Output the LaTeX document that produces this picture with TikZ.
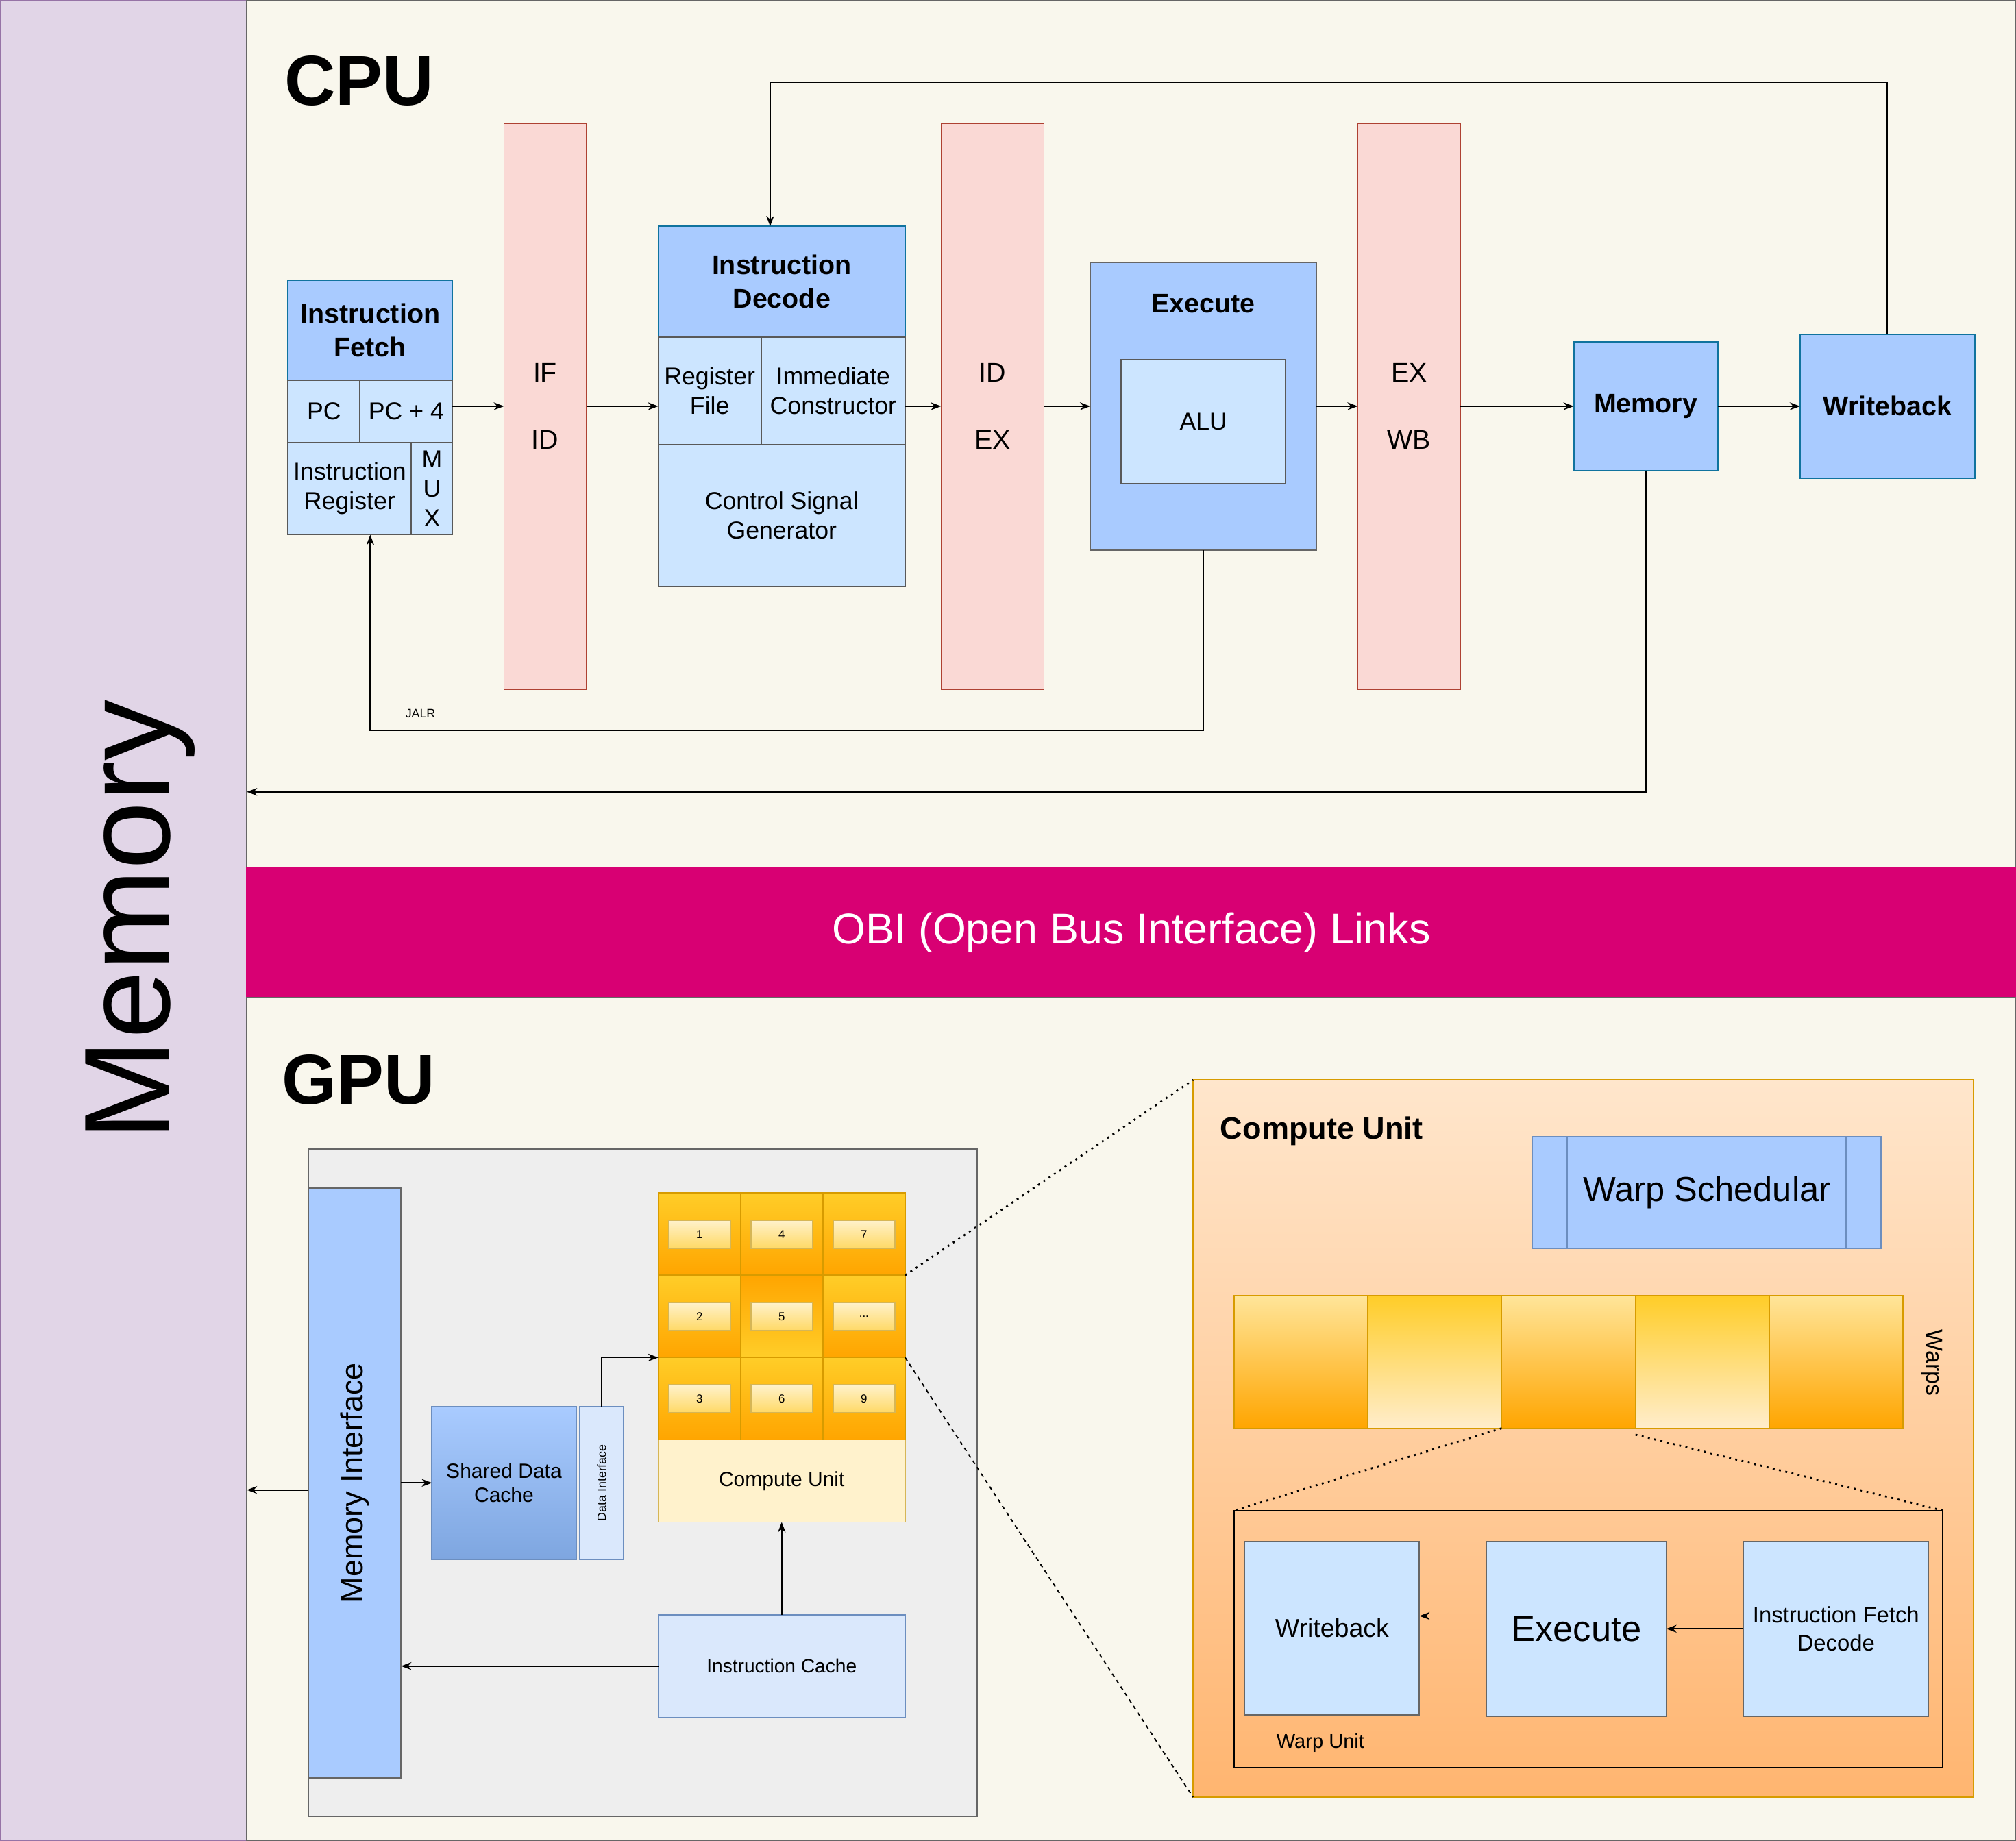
\documentclass[tikz,border=0pt]{standalone}
\usepackage{fontspec}
\setmainfont{Liberation Sans}
\usetikzlibrary{positioning,arrows.meta}

\definecolor{cream}{HTML}{F9F7ED}
\definecolor{lavender}{HTML}{E1D5E7}
\definecolor{purpleline}{HTML}{9673A6}
\definecolor{obi}{HTML}{D80073}
\definecolor{regfill}{HTML}{FAD9D5}
\definecolor{regline}{HTML}{AE4132}
\definecolor{hdrblue}{HTML}{A9CBFF}
\definecolor{cellblue}{HTML}{CCE5FF}
\definecolor{paleblue}{HTML}{DAE8FC}
\definecolor{deepblue}{HTML}{7EA6E0}
\definecolor{blueline}{HTML}{6C8EBF}
\definecolor{tealline}{HTML}{10739E}
\definecolor{gridline}{HTML}{D79B00}
\definecolor{gold}{HTML}{FFCD28}
\definecolor{amber}{HTML}{FFA500}
\definecolor{lemon}{HTML}{FFE599}
\definecolor{cornsilk}{HTML}{FFEDCC}
\definecolor{paleyellow}{HTML}{FFF2CC}
\definecolor{butter}{HTML}{FFD966}
\definecolor{yellowline}{HTML}{D6B656}
\definecolor{peach}{HTML}{FFE6CC}
\definecolor{tangerine}{HTML}{FFB570}
\definecolor{grayfill}{HTML}{EEEEEE}

\newcommand{\fnt}[2]{\fontsize{#1}{#2}\selectfont}

\tikzset{
  block/.style={draw=black!70, line width=1pt, inner sep=0pt, outer sep=0pt, align=center, anchor=north west},
  sz/.style 2 args={minimum width=#1pt, minimum height=#2pt},
  hdr/.style={block, fill=hdrblue, draw=tealline, font=\fnt{21}{26}\bfseries},
  cell/.style={block, fill=cellblue, draw=black!65, font=\fnt{19}{23}},
  pipereg/.style={block, fill=regfill, draw=regline, font=\fnt{21}{26}},
  core/.style={block, sz={64}{64}, top color=gold, bottom color=amber, draw=gridline},
  corebox/.style={draw=yellowline, line width=1pt, top color=paleyellow, bottom color=butter, minimum width=48pt, minimum height=22pt, inner sep=0pt, font=\fnt{9}{11}},
  warp/.style={block, sz={104}{103}, draw=gridline},
  link/.style={draw=black, line width=1pt, -{Stealth[length=8pt,width=6pt]}},
  paneltitle/.style={anchor=west, inner sep=0pt, font=\fnt{55}{60}\bfseries},
  zoomline/.style={line width=1.5pt, dash pattern=on 1.5pt off 3.5pt},
  zoomdash/.style={line width=1pt, dash pattern=on 3pt off 3pt},
}

\begin{document}
\begin{tikzpicture}[x=1pt,y=-1pt]
\useasboundingbox (0,0) rectangle (1568,1432);

% panels
\node[block, fill=lavender, draw=purpleline, sz={192}{1432}] (membar) at (0,0) {};
\node[rotate=90, font=\fnt{95}{100}] (memlabel) at ([xshift=13pt]membar.center) {Memory};
\node[block, fill=cream, draw=black!60, sz={1376}{675}] (cpu) at (membar.north east) {};
\node[block, fill=obi, draw=obi, text=white, font=\fnt{33.5}{40}, sz={1376}{101}] (obi) at (cpu.south west) {OBI (Open Bus Interface) Links};
\node[block, fill=cream, draw=black!60, sz={1376}{656}] (gpu) at (obi.south west) {};
\node[paneltitle] (cputitle) at (221,63) {CPU};
\node[paneltitle] (gputitle) at (219,840) {GPU};

% CPU pipeline
\node[hdr, sz={128}{78}] (ifhead) at (224,218) {Instruction\\Fetch};
\node[cell, sz={56}{48}] (pc) at (ifhead.south west) {PC};
\node[cell, sz={72}{48}] (pcfour) at (pc.north east) {PC + 4};
\node[cell, sz={96}{72}] (ir) at (pc.south west) {Instruction\\Register};
\node[cell, sz={32}{72}] (mux) at (ir.north east) {M\\U\\X};
\node[pipereg, sz={64}{440}] (ifid) at (392,96) {IF\\[26pt]ID};
\node[hdr, sz={192}{86}] (idhead) at (512,176) {Instruction\\Decode};
\node[cell, sz={80}{84}] (rf) at (idhead.south west) {Register\\File};
\node[cell, sz={112}{84}] (imm) at (rf.north east) {Immediate\\Constructor};
\node[cell, sz={192}{110}] (csg) at (rf.south west) {Control Signal\\Generator};
\node[pipereg, sz={80}{440}] (idex) at (732,96) {ID\\[26pt]EX};
\node[hdr, draw=black!60, sz={176}{224}] (ex) at (848,204) {};
\node[font=\fnt{21}{26}\bfseries] (extitle) at ([yshift=-32pt]ex.north) {Execute};
\node[cell, sz={128}{96}] (alu) at ([xshift=24pt,yshift=-76pt]ex.north west) {ALU};
\node[pipereg, sz={80}{440}] (exwb) at (1056,96) {EX\\[26pt]WB};
\node[hdr, sz={112}{100}] (mem) at (1224,266) {Memory};
\node[hdr, sz={136}{112}] (wb) at (1400,260) {Writeback};

\draw[link] (pcfour.east |- ifid.center) -- (ifid.west);
\draw[link] (ifid.east) -- (rf.west |- ifid.east);
\draw[link] (imm.east |- idex.west) -- (idex.west);
\draw[link] (idex.east) -- (ex.west);
\draw[link] (ex.east) -- (exwb.west);
\draw[link] (exwb.east) -- (mem.west);
\draw[link] (mem.east) -- (wb.west);
\draw[link] (wb.north) -- ++(0,-196) -| ([xshift=-9pt]idhead.north);
\draw[link] (ex.south) -- ++(0,140) -| (ifhead.south |- ir.south);
\node[font=\fnt{9.5}{11}] (jalr) at (327,555) {JALR};
\draw[link] (mem.south) |- (membar.east |- 0,616);

% GPU
\node[block, fill=grayfill, draw=black!60, sz={520}{519}] (gpubox) at (240,894) {};
\node[block, fill=hdrblue, draw=black!60, sz={72}{459}] (memif) at (240,924) {};
\node[rotate=90, font=\fnt{24}{28}] (memiflabel) at (memif.center) {Memory Interface};
\node[block, top color=hdrblue, bottom color=deepblue, draw=blueline, font=\fnt{16}{19}, sz={112}{119}] (sdc) at (336,1094) {Shared Data\\Cache};
\node[block, fill=paleblue, draw=blueline, sz={34}{119}] (dataif) at ([xshift=3pt]sdc.north east) {};
\node[rotate=90, font=\fnt{9.5}{11}] (dilabel) at (dataif.center) {Data Interface};

\node[core] (cu1) at (512,928) {};
\node[core] (cu2) at (cu1.south west) {};
\node[core] (cu3) at (cu2.south west) {};
\node[core] (cu4) at (cu1.north east) {};
\node[core, top color=amber, bottom color=gold] (cu5) at (cu4.south west) {};
\node[core] (cu6) at (cu5.south west) {};
\node[core] (cu7) at (cu4.north east) {};
\node[core] (cu8) at (cu7.south west) {};
\node[core] (cu9) at (cu8.south west) {};
\node[corebox] (cb1) at (cu1) {1};
\node[corebox] (cb2) at (cu2) {2};
\node[corebox] (cb3) at (cu3) {3};
\node[corebox] (cb4) at (cu4) {4};
\node[corebox] (cb5) at (cu5) {5};
\node[corebox] (cb6) at (cu6) {6};
\node[corebox] (cb7) at (cu7) {7};
\node[corebox] (cb8) at (cu8) {...};
\node[corebox] (cb9) at (cu9) {9};
\node[block, fill=paleyellow, draw=yellowline, font=\fnt{16}{19}, sz={192}{64}] (cubase) at (cu3.south west) {Compute Unit};
\node[block, fill=paleblue, draw=blueline, font=\fnt{15}{18}, sz={192}{80}] (icache) at (512,1256) {Instruction Cache};

\draw[link] (memif.west |- 0,1159) -- (membar.east |- 0,1159);
\draw[link] (memif.east |- sdc.west) -- (sdc.west);
\draw[link] (dataif.north) |- (cu2.south west);
\draw[link] (icache.north) -- (cubase.south);
\draw[link] (icache.west) -- (memif.east |- icache.west);

% compute unit detail
\node[block, top color=peach, bottom color=tangerine, draw=gridline, sz={607}{558}] (cuzoom) at (928,840) {};
\draw[zoomline] (cu7.south east) -- (cuzoom.north west);
\draw[zoomdash] (cu8.south east) -- (cuzoom.south west);
\node[anchor=west, inner sep=0pt, font=\fnt{24}{28}\bfseries] (cutitle) at (949,880) {Compute Unit};
\node[block, fill=hdrblue, draw=blueline, font=\fnt{27}{32}, sz={271}{87}] (sched) at (1192,884) {Warp Schedular};
\draw[blueline, line width=1pt] ([xshift=27pt]sched.north west) -- ([xshift=27pt]sched.south west)
  ([xshift=-27pt]sched.north east) -- ([xshift=-27pt]sched.south east);

\node[warp, top color=lemon, bottom color=amber] (w1) at (960,1008) {};
\node[warp, top color=gold, bottom color=cornsilk] (w2) at (w1.north east) {};
\node[warp, top color=lemon, bottom color=amber] (w3) at (w2.north east) {};
\node[warp, top color=gold, bottom color=cornsilk] (w4) at (w3.north east) {};
\node[warp, top color=lemon, bottom color=amber] (w5) at (w4.north east) {};
\node[rotate=-90, font=\fnt{18}{22}] (warpslabel) at (1503,1060) {Warps};

\node[block, draw=black, sz={551}{200}] (wunit) at (960,1175) {};
\draw[zoomline] (w3.south west) -- (wunit.north west);
\draw[zoomline] ([yshift=-5pt]w4.south west) -- (wunit.north east);
\node[block, fill=cellblue, draw=black!60, font=\fnt{20}{24}, sz={136}{135}] (wwb) at (968,1199) {Writeback};
\node[block, fill=cellblue, draw=black!60, font=\fnt{28}{33}, sz={140}{136}] (wexe) at (1156,1199) {Execute};
\node[block, fill=cellblue, draw=black!60, font=\fnt{17.5}{22}, sz={144}{136}] (wifd) at (1356,1199) {Instruction Fetch\\Decode};
\draw[link] ([yshift=10pt]wexe.west) -- ([yshift=10pt]wexe.west -| wwb.east);
\draw[link] (wifd.west) -- (wexe.east);
\node[font=\fnt{15.5}{18}] (wulabel) at (1027,1356) {Warp Unit};
\end{tikzpicture}
\end{document}
